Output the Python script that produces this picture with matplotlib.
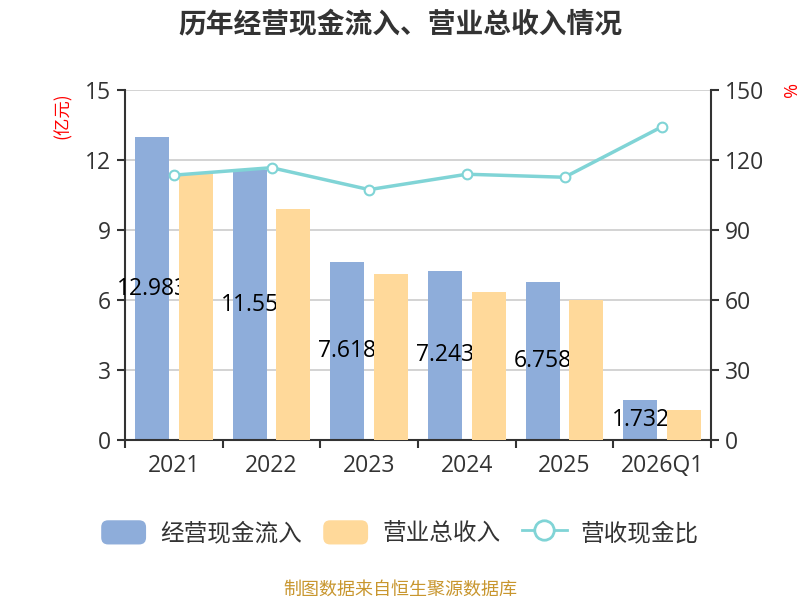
import matplotlib
matplotlib.use("Agg")
import matplotlib.pyplot as plt
import numpy as np
from matplotlib.patches import FancyBboxPatch
from matplotlib.lines import Line2D
from matplotlib.legend_handler import HandlerPatch

plt.rcParams['font.family'] = ['Open Sans', 'Noto Sans CJK SC', 'DejaVu Sans']
CJK = ['Noto Sans CJK SC', 'DejaVu Sans']

categories = ["2021", "2022", "2023", "2024", "2025", "2026Q1"]
cash_inflow = [12.983, 11.55, 7.618, 7.243, 6.758, 1.732]
revenue = [11.44, 9.90, 7.10, 6.36, 6.00, 1.29]
ratio = [113.5, 116.7, 107.3, 113.9, 112.6, 134.3]
left_ticks = [0, 3, 6, 9, 12, 15]
right_ticks = [0, 30, 60, 90, 120, 150]

c_blue = "#8EADDA"
c_orange = "#FFD99A"
c_line = "#80D4D6"
c_axis = "#333333"

fig = plt.figure(figsize=(8, 6), dpi=100)
ax = fig.add_axes([0.15625, 0.2667, 0.7325, 0.5833])
ax2 = ax.twinx()

x = np.arange(len(categories))
w = 0.348
off = 0.222
ax.bar(x - off, cash_inflow, w, color=c_blue, zorder=2)
for xi, v in zip(x, cash_inflow):
    ax.text(xi - off, v / 2, f"{v:g}", ha="center", va="center", fontsize=16.5,
            color="black", zorder=3)
ax.bar(x + off, revenue, w, color=c_orange, zorder=4)

ax.set_xlim(-0.5, len(categories) - 0.5)
ax.set_ylim(0, 15)
ax.set_yticks(left_ticks)
ax.yaxis.grid(True, color="#CCCCCC", linewidth=1.2, zorder=0)
ax.set_axisbelow(True)
ax.set_xticks(x)
ax.set_xticklabels(categories)
ax.set_xticks(np.arange(-0.5, len(categories)), minor=True)
ax.tick_params(axis="x", which="major", length=0, labelsize=16.5, colors=c_axis, pad=10)
ax.tick_params(axis="x", which="minor", length=6, width=1.5, color=c_axis)
ax.tick_params(axis="y", length=6, width=1.5, labelsize=16.5, colors=c_axis, pad=4)
for s in ["top", "right"]:
    ax.spines[s].set_visible(False)
for s in ["left", "bottom"]:
    ax.spines[s].set_color(c_axis)
    ax.spines[s].set_linewidth(1.5)

ax2.plot(x, ratio, color=c_line, linewidth=2.5, marker="o", markersize=7,
         markerfacecolor="white", markeredgecolor=c_line, markeredgewidth=1.5, zorder=5)
ax2.set_ylim(0, 150)
ax2.set_yticks(right_ticks)
ax2.tick_params(axis="y", length=6, width=1.5, labelsize=16.5, colors=c_axis, pad=4)
for s in ["top", "left", "bottom"]:
    ax2.spines[s].set_visible(False)
ax2.spines["right"].set_color(c_axis)
ax2.spines["right"].set_linewidth(1.5)

fig.text(0.5, 0.96, "历年经营现金流入、营业总收入情况", ha="center", va="center",
         fontsize=20, fontweight="bold", color="#333333", family=CJK)
fig.text(0.079, 0.808, "(亿元)", ha="center", va="center", rotation=90,
         fontsize=12.5, color="red", family=CJK)
fig.text(0.984, 0.85, "%", ha="center", va="center", rotation=270,
         fontsize=13, color="red")
fig.text(0.5, (600 - 590) / 600, "制图数据来自恒生聚源数据库", ha="center", va="center",
         fontsize=13, color="#C8962E", family=CJK)


class RoundHandler(HandlerPatch):
    def create_artists(self, legend, orig_handle, xdescent, ydescent, width, height, fontsize, trans):
        p = FancyBboxPatch((-xdescent, -ydescent), width, height,
                           boxstyle="round,pad=0,rounding_size=5",
                           facecolor=orig_handle.get_facecolor(), edgecolor="none",
                           transform=trans)
        return [p]


h1 = FancyBboxPatch((0, 0), 1, 1, facecolor=c_blue)
h2 = FancyBboxPatch((0, 0), 1, 1, facecolor=c_orange)
h3 = Line2D([], [], color=c_line, linewidth=2, marker="o", markersize=14,
            markerfacecolor="white", markeredgecolor=c_line, markeredgewidth=2)
leg = fig.legend([h1, h2, h3], ["经营现金流入", "营业总收入", "营收现金比"],
                 loc="center", bbox_to_anchor=(0.5, 0.112), ncol=3, frameon=False,
                 prop={'family': CJK, 'size': 17}, handlelength=1.9, handleheight=1.2,
                 handletextpad=0.6, columnspacing=0.9,
                 handler_map={FancyBboxPatch: RoundHandler()})
for t in leg.get_texts():
    t.set_color("#333333")

fig.savefig("out.png", dpi=100)
